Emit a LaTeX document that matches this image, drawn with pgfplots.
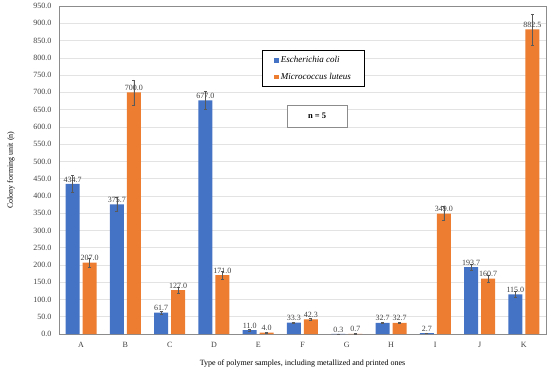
\documentclass[border=0pt]{standalone}
\usepackage{fontspec}
\setmainfont{Liberation Serif}
\usepackage{pgfplots}
\pgfplotsset{compat=1.18}
\definecolor{ecoli}{HTML}{4472C4}
\definecolor{mlut}{HTML}{ED7D31}
\definecolor{axgray}{HTML}{8C8C8C}
\definecolor{gridgray}{HTML}{E3E3E3}
\definecolor{txt}{HTML}{404040}
\definecolor{errc}{HTML}{5A5A5A}
\pgfplotstableread{
x y e
0 434.7 25
1 375.7 20
2 61.7 5
3 677.0 25
4 11.0 2
5 33.3 2
6 0.3 0.3
7 32.7 1.5
8 2.7 1
9 193.7 10
10 115.0 8
}\ecolidata
\pgfplotstableread{
x y e
0 207.0 12
1 700.0 36
2 127.0 8
3 171.0 12
4 4.0 1.5
5 42.3 3
6 0.7 0.5
7 32.7 1.5
8 349.0 20
9 160.7 10
10 882.5 45
}\mlutdata
\begin{document}
\begin{tikzpicture}
\begin{axis}[
  scale only axis,
  width=487pt, height=328pt,
  ybar=3pt, bar width=14pt,
  xmin=-0.5, xmax=10.5,
  ymin=0, ymax=950,
  ytick distance=50,
  xtick={0,...,10},
  xticklabels={A,B,C,D,E,F,G,H,I,J,K},
  major tick length=0pt,
  ymajorgrids, grid style={gridgray, line width=0.6pt},
  axis line style={axgray, line width=0.8pt},
  tick label style={font=\fontsize{8}{9}\selectfont, text=txt},
  yticklabel style={xshift=-4pt, /pgf/number format/fixed, /pgf/number format/fixed zerofill, /pgf/number format/precision=1, /pgf/number format/assume math mode=true},
  xticklabel style={yshift=-5pt},
  xlabel={Type of polymer samples, including metallized and printed ones},
  ylabel={Colony forming unit (n)},
  label style={font=\fontsize{8}{9}\selectfont, text=black},
  xlabel style={yshift=-5pt},
  ylabel style={yshift=12pt},
  nodes near coords,
  nodes near coords style={font=\fontsize{8}{9}\selectfont, text=txt, inner sep=1.5pt,
    /pgf/number format/fixed, /pgf/number format/fixed zerofill, /pgf/number format/precision=1, /pgf/number format/assume math mode=true},
  error bars/y dir=both, error bars/y explicit,
  error bars/error bar style={errc, line width=0.35pt},
  error bars/error mark options={rotate=90, mark size=1.5pt, errc, line width=0.35pt},
  legend style={at={(0.4168,0.866)}, anchor=north west, draw=black, line width=1pt,
    font=\fontsize{9}{10}\selectfont\itshape, row sep=5pt, inner xsep=12pt, inner ysep=4pt,
    cells={anchor=west}},
  legend image code/.code={\fill (0pt,-2.2pt) rectangle (4.4pt,2.2pt);},
]
\addplot[fill=ecoli, draw=none] table[x=x, y=y, y error=e] {\ecolidata};
\addplot[fill=mlut, draw=none] table[x=x, y=y, y error=e] {\mlutdata};
\legend{Escherichia coli, Micrococcus luteus}
\node[draw=axgray, line width=0.8pt, minimum width=60pt, minimum height=22pt, fill=white,
  font=\fontsize{8.5}{9}\selectfont\bfseries] at (rel axis cs:0.530,0.665) {n = 5};
\end{axis}
\path[use as bounding box] (-59pt,-36pt) rectangle (491pt,334pt);
\end{tikzpicture}
\end{document}
